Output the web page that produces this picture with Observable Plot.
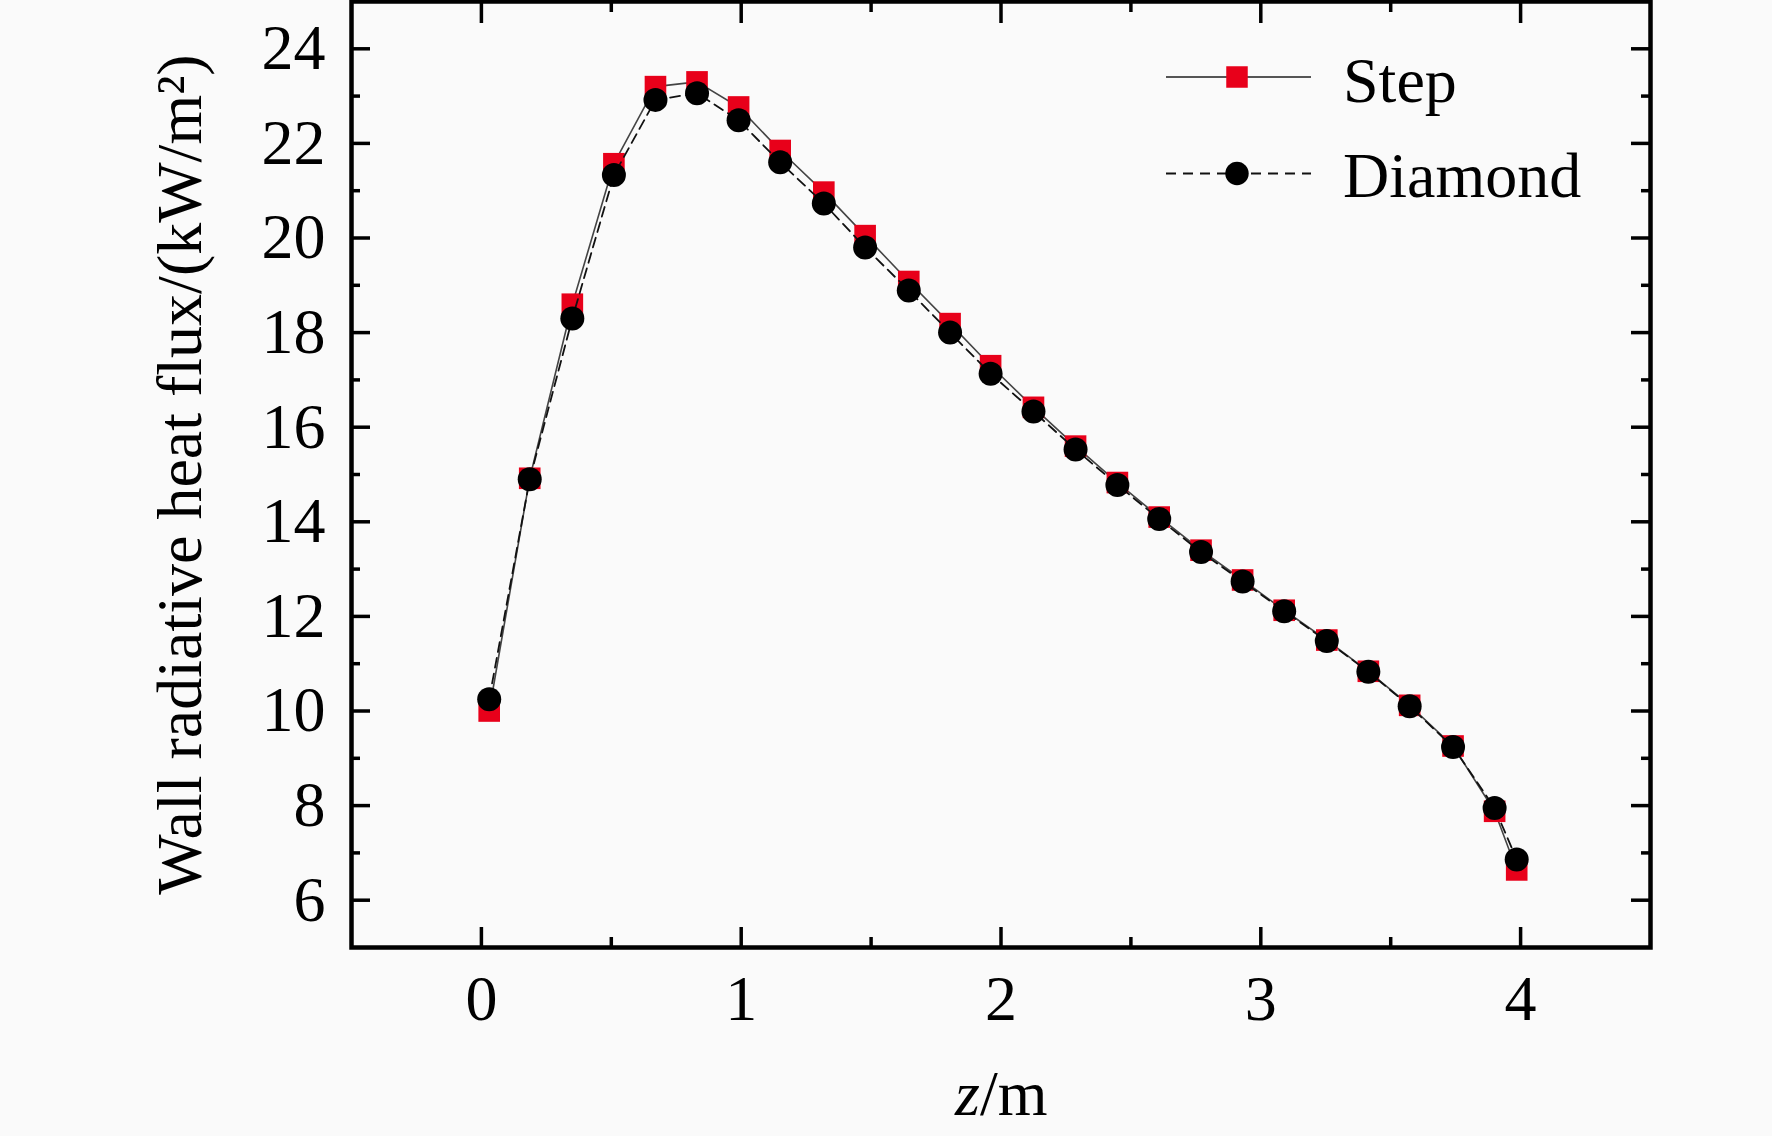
<!DOCTYPE html>
<html>
<head>
<meta charset="utf-8">
<script src="https://cdn.jsdelivr.net/npm/d3@7"></script>
<script src="https://cdn.jsdelivr.net/npm/@observablehq/plot@0.6"></script>
<style>
  html, body { margin: 0; padding: 0; background: #fafafa; }
  #wrap { position: relative; width: 1772px; height: 1136px; }
  #legend { position: absolute; left: 0; top: 0; pointer-events: none; }
</style>
</head>
<body>
<div id="wrap"></div>
<script>
// ---- data ----
const z = [0.03, 0.186, 0.35, 0.51, 0.67, 0.83, 0.99, 1.15, 1.318, 1.477, 1.645, 1.804, 1.96, 2.125, 2.287, 2.448, 2.609, 2.77, 2.93, 3.09, 3.254, 3.414, 3.573, 3.74, 3.9, 3.985];
const stepFlux = [10.0, 14.92, 18.6, 21.57, 23.2, 23.3, 22.77, 21.85, 20.97, 20.05, 19.08, 18.19, 17.3, 16.42, 15.6, 14.83, 14.1, 13.4, 12.77, 12.13, 11.5, 10.84, 10.12, 9.26, 7.88, 6.64];
const diamondFlux = [10.25, 14.9, 18.3, 21.33, 22.92, 23.06, 22.49, 21.6, 20.73, 19.8, 18.89, 18.0, 17.13, 16.33, 15.53, 14.78, 14.06, 13.36, 12.74, 12.11, 11.48, 10.83, 10.1, 9.24, 7.95, 6.86];
const seriesNames = ["Step", "Diamond"];
const xMajor = [0, 1, 2, 3, 4];
const xMinor = [0.5, 1.5, 2.5, 3.5];
const yMajor = [6, 8, 10, 12, 14, 16, 18, 20, 22, 24];
const yMinor = [7, 9, 11, 13, 15, 17, 19, 21, 23];
const yLabel = "Wall radiative heat flux/(kW/m²)";
const xLabelItalic = "z";
const xLabelRest = "/m";

const step = z.map((d, i) => ({z: d, q: stepFlux[i]}));
const diamond = z.map((d, i) => ({z: d, q: diamondFlux[i]}));

// ---- layout ----
const W = 1772, H = 1136;
const mL = 351, mR = 122, mT = 1, mB = 189;
const pW = W - mL - mR, pH = H - mT - mB;
const RED = "#e8001a";
const FONT = "Liberation Serif, Times New Roman, serif";
const tickW = 3.5;

const chart = Plot.plot({
  width: W, height: H,
  marginLeft: mL, marginRight: mR, marginTop: mT, marginBottom: mB,
  style: {fontFamily: FONT, fontSize: "64px", background: "#fafafa", color: "#000"},
  x: {domain: [-0.5, 4.5]},
  y: {domain: [5, 25]},
  marks: [
    // inward ticks: bottom
    Plot.tickX(xMajor, {x: d => d, insetTop: pH - 20, stroke: "#000", strokeWidth: tickW}),
    Plot.tickX(xMinor, {x: d => d, insetTop: pH - 10, stroke: "#000", strokeWidth: tickW}),
    // top
    Plot.tickX(xMajor, {x: d => d, insetBottom: pH - 22, stroke: "#000", strokeWidth: tickW}),
    Plot.tickX(xMinor, {x: d => d, insetBottom: pH - 11, stroke: "#000", strokeWidth: tickW}),
    // left
    Plot.tickY(yMajor, {y: d => d, insetRight: pW - 19, stroke: "#000", strokeWidth: tickW}),
    Plot.tickY(yMinor, {y: d => d, insetRight: pW - 9, stroke: "#000", strokeWidth: tickW}),
    // right
    Plot.tickY(yMajor, {y: d => d, insetLeft: pW - 19, stroke: "#000", strokeWidth: tickW}),
    Plot.tickY(yMinor, {y: d => d, insetLeft: pW - 9, stroke: "#000", strokeWidth: tickW}),
    // tick labels
    Plot.axisX(xMajor, {tickSize: 0, tickPadding: 27, label: null, tickFormat: d => String(d), fontSize: 64}),
    Plot.axisY(yMajor, {tickSize: 0, tickPadding: 26, label: null, tickFormat: d => String(d), fontSize: 64}),
    // axis titles
    Plot.text([yLabel], {frameAnchor: "left", rotate: -90, dx: -171, lineAnchor: "middle", textAnchor: "middle", fontSize: 64, fill: "#000"}),
    Plot.text([xLabelItalic], {frameAnchor: "bottom", dx: -21, dy: 147, lineAnchor: "middle", textAnchor: "end", fontStyle: "italic", fontSize: 64, fill: "#000"}),
    Plot.text([xLabelRest], {frameAnchor: "bottom", dx: -21, dy: 147, lineAnchor: "middle", textAnchor: "start", fontSize: 64, fill: "#000"}),
    // series
    Plot.line(step, {x: "z", y: "q", stroke: "#444", strokeWidth: 1.6}),
    Plot.dot(step, {x: "z", y: "q", symbol: "square", r: 12.2, fill: RED, stroke: "none"}),
    Plot.line(diamond, {x: "z", y: "q", stroke: "#111", strokeWidth: 1.8, strokeDasharray: "10,6"}),
    Plot.dot(diamond, {x: "z", y: "q", symbol: "circle", r: 12, fill: "#000", stroke: "none"}),
    Plot.frame({stroke: "#000", strokeWidth: 4.5})
  ]
});

const wrap = document.getElementById("wrap");
wrap.appendChild(chart);

// ---- legend overlay (inside plot, top-right) ----
const leg = d3.create("svg")
  .attr("id", "legend")
  .attr("width", W).attr("height", 260)
  .style("font-family", FONT).style("font-size", "64px");
const rows = [
  {name: seriesNames[0], cy: 77, base: 101.5, stroke: "#555", dash: null, sw: 2, symbol: d3.symbolSquare, size: 21.5 * 21.5, fill: RED},
  {name: seriesNames[1], cy: 173.5, base: 196.7, stroke: "#111", dash: "10,7", sw: 2, symbol: d3.symbolCircle, size: Math.PI * 11.7 * 11.7, fill: "#000"}
];
rows.forEach(r => {
  leg.append("line").attr("x1", 1166).attr("x2", 1311).attr("y1", r.cy).attr("y2", r.cy)
    .attr("stroke", r.stroke).attr("stroke-width", r.sw).attr("stroke-dasharray", r.dash);
  leg.append("path").attr("d", d3.symbol(r.symbol, r.size)()).attr("transform", `translate(1237,${r.cy})`).attr("fill", r.fill);
  leg.append("text").attr("x", 1343).attr("y", r.base).attr("fill", "#000").text(r.name);
});
wrap.appendChild(leg.node());
</script>
</body>
</html>
